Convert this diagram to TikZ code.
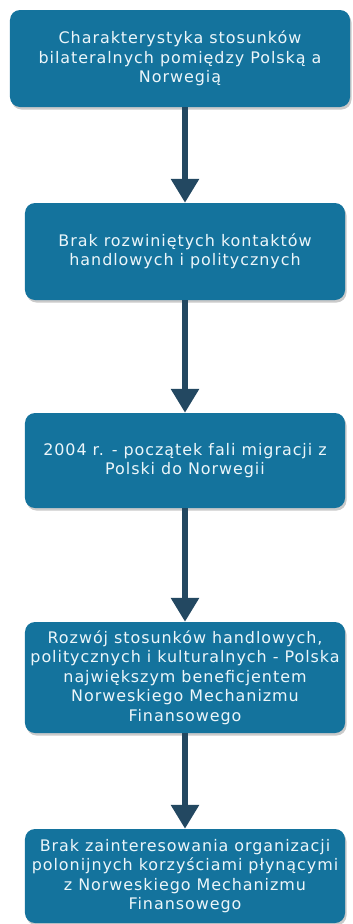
\documentclass[tikz,border=0pt]{standalone}
\usepackage{fontspec}
\setmainfont{DejaVu Sans}[LetterSpace=6]
\usepackage{tikz}
\usetikzlibrary{arrows.meta,shadows}
\definecolor{boxblue}{RGB}{20,115,157}
\definecolor{arrowdark}{RGB}{35,72,97}
\definecolor{boxtext}{RGB}{236,246,250}

\begin{document}
\begin{tikzpicture}[x=1bp,y=-1bp,
	stage/.style={rectangle,rounded corners=10bp,fill=boxblue,text=boxtext,align=center,
		font=\fontsize{16}{19.5}\selectfont,inner sep=0pt,
		drop shadow={shadow xshift=1.5bp,shadow yshift=-2.5bp,opacity=0.35,fill=black!60}},
	flow/.style={arrowdark,line width=6bp,-{Triangle[width=27bp,length=24bp]}}]
			\useasboundingbox (0,0) rectangle (352,924);
			\node[stage,minimum width=340bp,minimum height=97bp] (char) at (180,58.5) {Charakterystyka stosunków\\bilateralnych pomiędzy Polską a\\Norwegią};
			\node[stage,minimum width=320bp,minimum height=97bp] (brak) at (185,251.5) {Brak rozwiniętych kontaktów\\handlowych i politycznych};
			\node[stage,minimum width=320bp,minimum height=95bp] (migr) at (185,460.5) {2004 r. - początek fali migracji z\\Polski do Norwegii};
			\node[stage,minimum width=320bp,minimum height=111bp] (rozw) at (185,677.5) {Rozwój stosunków handlowych,\\politycznych i kulturalnych - Polska\\największym beneficjentem\\Norweskiego Mechanizmu\\Finansowego};
			\node[stage,minimum width=320bp,minimum height=94bp] (polo) at (185,876) {Brak zainteresowania organizacji\\polonijnych korzyściami płynącymi\\z Norweskiego Mechanizmu\\Finansowego};
			% strzalki
			\draw[flow] (char.south -| brak.south) -- (brak.north);
			\draw[flow] (brak) -- (migr);
			\draw[flow] (migr) -- (rozw);
			\draw[flow] (rozw) -- (polo);
		\end{tikzpicture}
\end{document}
